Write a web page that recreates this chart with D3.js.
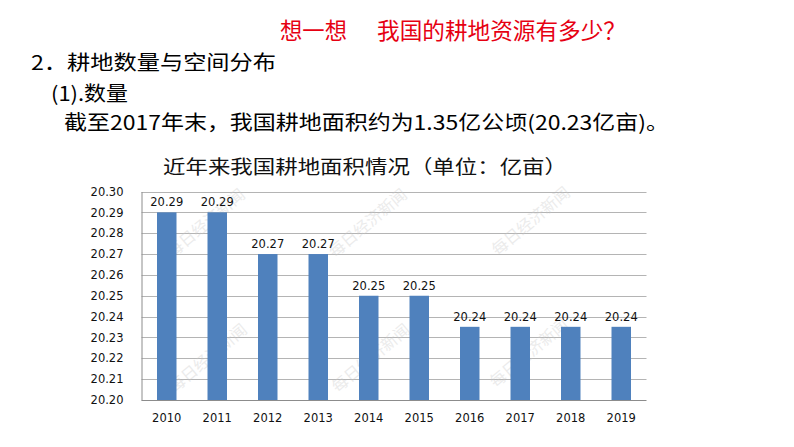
<!DOCTYPE html>
<html>
<head>
<meta charset="utf-8">
<script src="https://cdn.jsdelivr.net/npm/d3@7"></script>
<style>
  html, body { margin: 0; padding: 0; background: #fff; }
  svg { display: block; }
</style>
</head>
<body>
<svg id="chart" width="794" height="447"></svg>
<script>
// ---- data ----
const years = ["2010", "2011", "2012", "2013", "2014", "2015", "2016", "2017", "2018", "2019"];
const areas = [20.29, 20.29, 20.27, 20.27, 20.25, 20.25, 20.2351, 20.2351, 20.2351, 20.2351];
const yTicks = [20.20, 20.21, 20.22, 20.23, 20.24, 20.25, 20.26, 20.27, 20.28, 20.29, 20.30];
const chartTitle = "近年来我国耕地面积情况（单位：亿亩）";
const headingRed1 = "想一想";
const headingRed2 = "我国的耕地资源有多少？";
const line1 = "2．耕地数量与空间分布";
const line2 = "(1).数量";
const line3 = "截至2017年末，我国耕地面积约为1.35亿公顷(20.23亿亩)。";
const watermark = "每日经济新闻";

const svg = d3.select("#chart");
const cjk = "'Noto Sans CJK SC', 'Noto Sans', sans-serif";

// ---- slide text ----
function txt(s, x, y, size, fill, len) {
  const t = svg.append("text")
    .attr("x", x).attr("y", y)
    .attr("dominant-baseline", "central")
    .attr("font-family", cjk)
    .attr("font-size", size)
    .attr("fill", fill)
    .text(s);
  if (len) t.attr("textLength", len).attr("lengthAdjust", "spacingAndGlyphs");
  return t;
}
txt(headingRed1, 280, 29, 23, "#e60012", 67);
txt(headingRed2, 377, 29, 23, "#e60012", 249);
txt(line1, 31, 61.5, 20, "#000", 245);
txt(line2, 51, 92, 20, "#000", 77);
txt(line3, 64, 121.5, 20, "#000", 605);

// ---- chart ----
const pLeft = 141.5, pRight = 646.5, pTop = 191.5, pBottom = 400;

const x = d3.scaleBand().domain(years).range([pLeft, pRight])
  .paddingInner(0.614).paddingOuter(0.307);
const y = d3.scaleLinear().domain([20.20, 20.30]).range([pBottom, pTop]);

// title
txt(chartTitle, 163, 165, 19, "#111", 404);

// gridlines
svg.append("g").selectAll("line").data(yTicks.slice(1)).join("line")
  .attr("x1", pLeft).attr("x2", pRight)
  .attr("y1", d => Math.round(y(d)) + 0.5).attr("y2", d => Math.round(y(d)) + 0.5)
  .attr("stroke", "#b4b4b4").attr("stroke-width", 1);

// watermarks (behind bars)
const wmPos = [[205, 222], [367, 222], [530, 220], [207, 357], [370, 357], [528, 352]];
svg.append("g").selectAll("text").data(wmPos).join("text")
  .attr("transform", d => `translate(${d[0]},${d[1]}) rotate(-40)`)
  .attr("text-anchor", "middle").attr("dominant-baseline", "central")
  .attr("font-family", cjk).attr("font-size", 16)
  .attr("fill", "#c8c8c8").attr("opacity", 0.35)
  .text(watermark);

// bars
svg.append("g").selectAll("rect").data(years).join("rect")
  .attr("x", d => x(d))
  .attr("width", x.bandwidth())
  .attr("y", (d, i) => y(areas[i]))
  .attr("height", (d, i) => pBottom - y(areas[i]))
  .attr("fill", "#4f81bd");

// value labels
const fmt = d3.format(".2f");
svg.append("g").selectAll("text").data(years).join("text")
  .attr("x", d => x(d) + x.bandwidth() / 2)
  .attr("y", (d, i) => y(areas[i]) - 6)
  .attr("text-anchor", "middle")
  .attr("font-family", "'DejaVu Sans', Verdana, sans-serif")
  .attr("font-size", 11.5)
  .attr("fill", "#111")
  .text((d, i) => fmt(areas[i]));

// y axis
const yAxis = d3.axisLeft(y).tickValues(yTicks).tickFormat(d3.format(".2f")).tickSize(0).tickPadding(18);
const gy = svg.append("g").attr("transform", `translate(${pLeft},0)`).call(yAxis);
gy.select(".domain").attr("stroke", "#8c8c8c");
gy.selectAll("text").attr("font-family", "'DejaVu Sans', Verdana, sans-serif")
  .attr("font-size", 11.5).attr("fill", "#111");

// x axis
const xAxis = d3.axisBottom(x).tickSize(0).tickPadding(14);
const gx = svg.append("g").attr("transform", `translate(0,${pBottom})`).call(xAxis);
gx.select(".domain").attr("stroke", "#8c8c8c").attr("d", `M${pLeft},0.5H${pRight}`);
gx.selectAll("text").attr("font-family", "'DejaVu Sans', Verdana, sans-serif")
  .attr("font-size", 11.5).attr("fill", "#111");
</script>
</body>
</html>
